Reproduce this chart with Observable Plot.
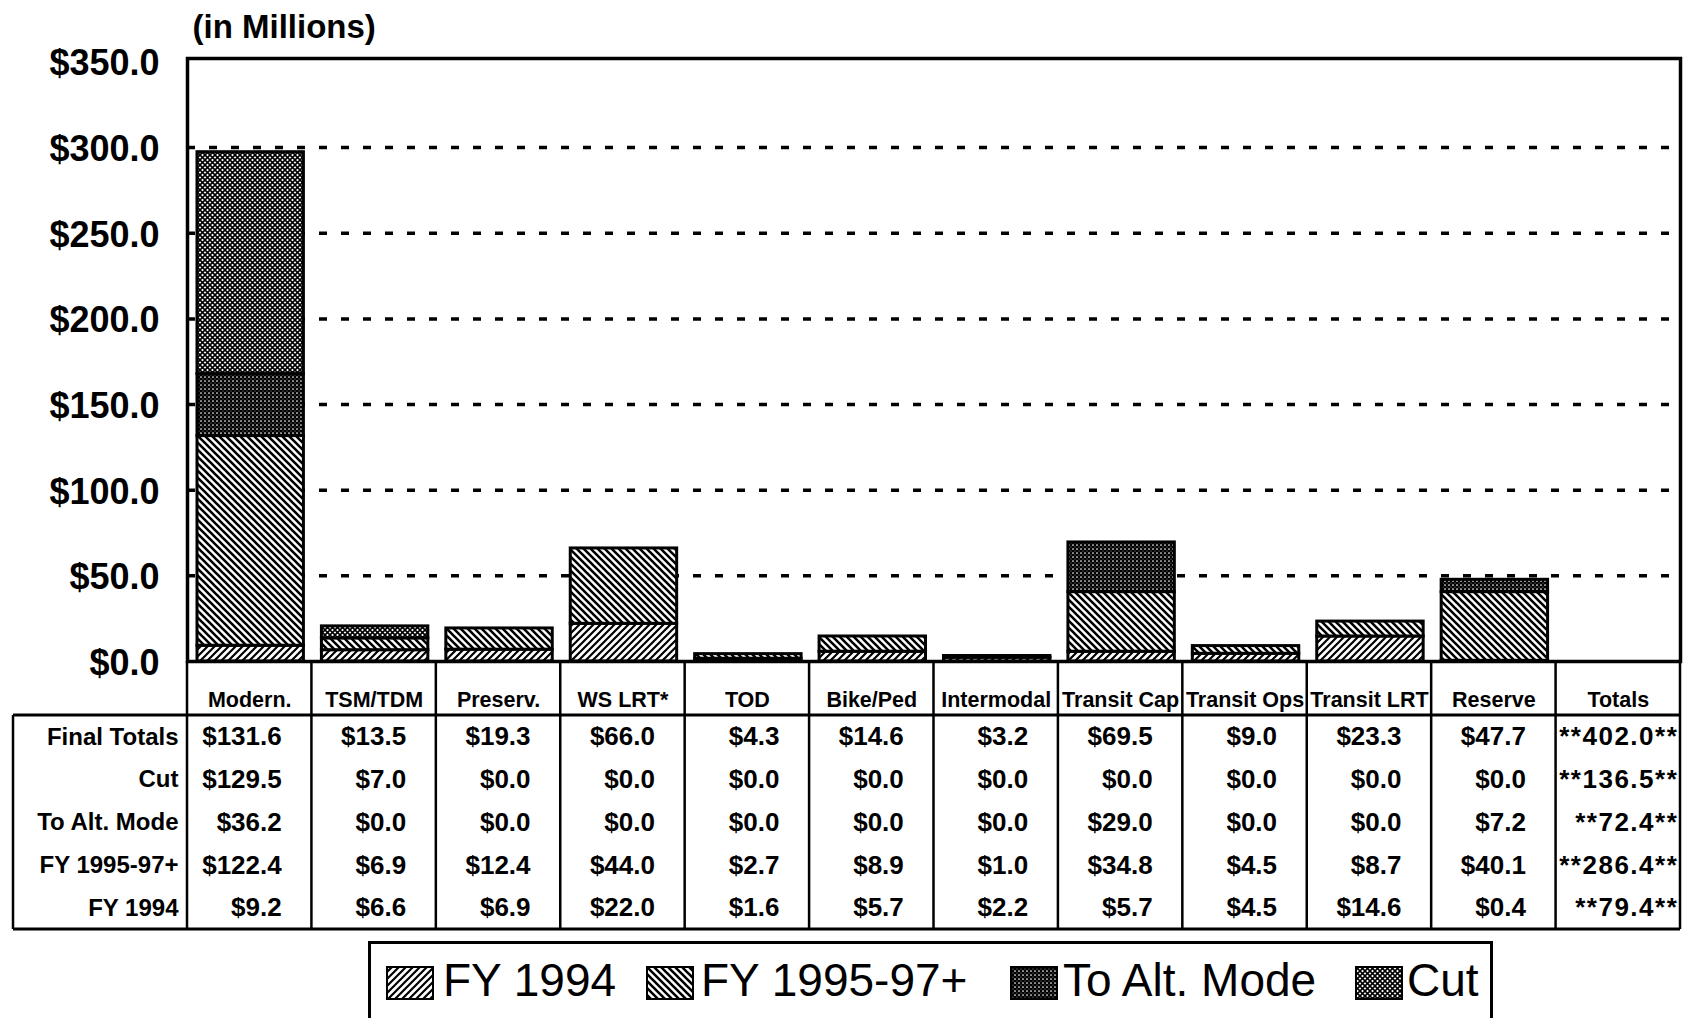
<!DOCTYPE html>
<html>
<head>
<meta charset="utf-8">
<script src="https://cdn.jsdelivr.net/npm/d3@7"></script>
<script src="https://cdn.jsdelivr.net/npm/@observablehq/plot@0.6"></script>
<style>
  body { margin: 0; background: #fff; font-family: "Liberation Sans", Arial, Helvetica, sans-serif; }
  #wrap { position: relative; width: 1685px; height: 1018px; overflow: hidden; background: #fff; }
  #chart { position: absolute; left: 0; top: 0; }
  #legend { position: absolute; left: 368px; top: 941px; width: 1125px; height: 80px;
            border: 3px solid #000; box-sizing: border-box; background: #fff; }
  .lg-sw { position: absolute; top: 22px; width: 48px; height: 34px; }
  .lg-tx { position: absolute; top: 13px; font-size: 46px; line-height: 46px; color: #000; white-space: nowrap; }
</style>
</head>
<body>
<svg width="0" height="0" style="position:absolute">
  <defs>
    <pattern id="pFY94" patternUnits="userSpaceOnUse" width="7" height="7">
      <rect width="7" height="7" fill="#fff"/>
      <path d="M-1,1 l2,-2 M0,7 l7,-7 M6,8 l2,-2" stroke="#000" stroke-width="2.2"/>
    </pattern>
    <pattern id="pFY95" patternUnits="userSpaceOnUse" width="7" height="7">
      <rect width="7" height="7" fill="#fff"/>
      <path d="M-1,6 l2,2 M0,0 l7,7 M6,-1 l2,2" stroke="#000" stroke-width="2.6"/>
    </pattern>
    <pattern id="pAlt" patternUnits="userSpaceOnUse" width="4" height="4">
      <rect width="4" height="4" fill="#000"/>
      <circle cx="1" cy="1" r="0.85" fill="#fff"/>
      <circle cx="3" cy="3" r="0.6" fill="#999"/>
    </pattern>
    <pattern id="pCut" patternUnits="userSpaceOnUse" width="5" height="5">
      <rect width="5" height="5" fill="#fff"/>
      <path d="M0,0 L5,5 M5,0 L0,5" stroke="#000" stroke-width="1.6"/>
    </pattern>
  </defs>
</svg>
<div id="wrap">
  <div id="chart"></div>
  <div id="legend"></div>
</div>
<script>
// ---------- data ----------
const categories = ["Modern.", "TSM/TDM", "Preserv.", "WS LRT*", "TOD", "Bike/Ped", "Intermodal", "Transit Cap", "Transit Ops", "Transit LRT", "Reserve"];
const totalsColumn = "Totals";
const fy1994   = [9.2, 6.6, 6.9, 22.0, 1.6, 5.7, 2.2, 5.7, 4.5, 14.6, 0.4];
const fy199597 = [122.4, 6.9, 12.4, 44.0, 2.7, 8.9, 1.0, 34.8, 4.5, 8.7, 40.1];
const altMode  = [36.2, 0.0, 0.0, 0.0, 0.0, 0.0, 0.0, 29.0, 0.0, 0.0, 7.2];
const cut      = [129.5, 7.0, 0.0, 0.0, 0.0, 0.0, 0.0, 0.0, 0.0, 0.0, 0.0];
const finalTotals = [131.6, 13.5, 19.3, 66.0, 4.3, 14.6, 3.2, 69.5, 9.0, 23.3, 47.7];
const grandTotals = [402.0, 136.5, 72.4, 286.4, 79.4]; // Final Totals, Cut, To Alt. Mode, FY 1995-97+, FY 1994
const seriesNames = ["FY 1994", "FY 1995-97+", "To Alt. Mode", "Cut"];
const rowLabels = ["Final Totals", "Cut", "To Alt. Mode", "FY 1995-97+", "FY 1994"];
const yTicks = [0, 50, 100, 150, 200, 250, 300, 350];
const gridTicks = [50, 100, 150, 200, 250, 300];
const unitLabel = "(in Millions)";

// ---------- layout / style ----------
const W = 1685, H = 935;
const mL = 187, mR = 5, mT = 58, mB = 274;
const frameBottom = H - mB;          // 661
const headerH = 54, rowH = 42.8, tableLeft = 13;
const patterns = ["url(#pFY94)", "url(#pFY95)", "url(#pAlt)", "url(#pCut)"];
const FONT = '"Liberation Sans", Arial, Helvetica, sans-serif';

const cols = [...categories, totalsColumn];
const seriesValues = [fy1994, fy199597, altMode, cut];
const stackData = [];
seriesNames.forEach((s, i) => categories.forEach((c, j) => {
  if (seriesValues[i][j] > 0) stackData.push({cat: c, series: s, value: seriesValues[i][j]});
}));
const rowArrays = [finalTotals, cut, altMode, fy199597, fy1994];
const fmt = v => "$" + v.toFixed(1);

const marks = [
  Plot.ruleY(gridTicks, {stroke: "#000", strokeWidth: 3.5, strokeDasharray: "8,14"}),
  Plot.barY(stackData, Plot.stackY({x: "cat", y: "value", z: "series", fill: "series",
    stroke: "#000", strokeWidth: 3, insetLeft: 10, insetRight: 8})),
  Plot.frame({stroke: "#000", strokeWidth: 3.5}),
  Plot.text([unitLabel], {text: d => d, frameAnchor: "top-left", lineAnchor: "middle", dx: 5, dy: -31,
    textAnchor: "start", fontSize: 33, fontWeight: "bold", fill: "#000"}),
  // category header row
  Plot.text(cols, {x: d => d, text: d => d, frameAnchor: "bottom", lineAnchor: "middle", dy: 39,
    fontSize: 21.5, fontWeight: "bold", fill: "#000"})
];

if (typeof Plot.axisY === "function") {
  marks.push(Plot.axisY({ticks: yTicks, tickFormat: fmt, tickSize: 0, tickPadding: 28, fontSize: 36,
    fontWeight: "bold", dy: 2, label: null, fill: "#000"}));
} else {
  marks.push(Plot.text(yTicks, {y: d => d, text: fmt, frameAnchor: "left", dx: -28, dy: 2,
    textAnchor: "end", fontSize: 36, fontWeight: "bold"}));
}

rowLabels.forEach((lab, r) => {
  const dy = headerH + rowH * r + rowH / 2;
  marks.push(Plot.text([lab], {text: d => d, frameAnchor: "bottom-left", lineAnchor: "middle", dx: -9, dy,
    textAnchor: "end", fontSize: 24, fontWeight: "bold", fill: "#000"}));
  const strings = rowArrays[r].map(fmt);
  marks.push(Plot.text(categories, {x: d => d, text: (d, i) => strings[i], frameAnchor: "bottom",
    lineAnchor: "middle", dx: 32, dy, textAnchor: "end", fontSize: 26, fontWeight: "bold", fill: "#000"}));
  marks.push(Plot.text([totalsColumn], {x: d => d, text: () => "**" + grandTotals[r].toFixed(1) + "**",
    frameAnchor: "bottom", lineAnchor: "middle", dx: 60, dy, textAnchor: "end", fontSize: 26,
    fontWeight: "bold", fill: "#000"}));
});

const plot = Plot.plot({
  width: W, height: H,
  marginLeft: mL, marginRight: mR, marginTop: mT, marginBottom: mB,
  style: {fontFamily: FONT, background: "#fff", overflow: "visible", color: "#000"},
  x: {type: "band", domain: cols, padding: 0, round: false, axis: null},
  y: {domain: [0, 352], ...(typeof Plot.axisY === "function" ? {} : {axis: null})},
  color: {type: "ordinal", domain: seriesNames, range: patterns},
  marks
});
document.getElementById("chart").appendChild(plot);
// letter spacing for totals column text
d3.select(plot).selectAll("text").filter(function() { return /^\*\*/.test(this.textContent); })
  .style("letter-spacing", "1.5px");

// table grid lines, placed with Plot's x scale
const xs = plot.scale("x");
const edges = cols.map(c => xs.apply(c));
edges.push(xs.apply(cols[cols.length - 1]) + xs.bandwidth);
const tableBottom = frameBottom + headerH + rowH * 5;
const g = d3.select(plot).append("g").attr("stroke", "#000").attr("fill", "none");
edges.forEach(x => g.append("line").attr("x1", x).attr("x2", x)
  .attr("y1", frameBottom).attr("y2", tableBottom).attr("stroke-width", 2.5));
g.append("line").attr("x1", tableLeft).attr("x2", edges[edges.length - 1])
  .attr("y1", frameBottom + headerH).attr("y2", frameBottom + headerH).attr("stroke-width", 3);
g.append("line").attr("x1", tableLeft).attr("x2", edges[edges.length - 1])
  .attr("y1", tableBottom).attr("y2", tableBottom).attr("stroke-width", 3);
g.append("line").attr("x1", tableLeft).attr("x2", tableLeft)
  .attr("y1", frameBottom + headerH).attr("y2", tableBottom).attr("stroke-width", 2.5);

// legend
const legend = document.getElementById("legend");
const swLeft = [15, 275, 639, 984];
const txLeft = [72, 330, 692, 1036];
seriesNames.forEach((s, i) => {
  const sw = document.createElementNS("http://www.w3.org/2000/svg", "svg");
  sw.setAttribute("class", "lg-sw");
  sw.setAttribute("width", 48); sw.setAttribute("height", 34);
  sw.style.left = swLeft[i] + "px";
  sw.innerHTML = `<rect x="1" y="1" width="46" height="32" fill="${patterns[i]}" stroke="#000" stroke-width="2"/>`;
  legend.appendChild(sw);
  const tx = document.createElement("div");
  tx.className = "lg-tx";
  tx.style.left = txLeft[i] + "px";
  tx.textContent = s;
  legend.appendChild(tx);
});
</script>
</body>
</html>
